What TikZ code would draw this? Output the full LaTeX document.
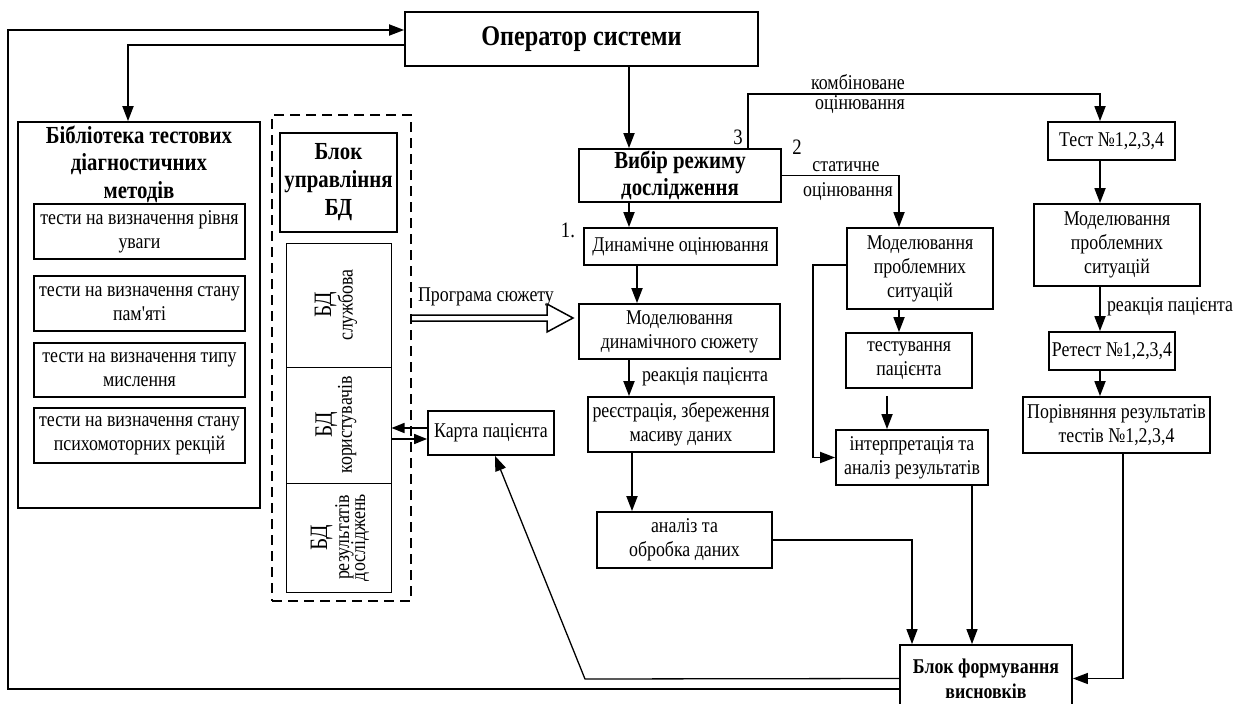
\documentclass[tikz,border=0pt]{standalone}
\usepackage{fontspec}
\setmainfont{Liberation Serif}[Ligatures=TeXOff, FakeStretch=0.85]
\usetikzlibrary{arrows.meta}
\begin{document}
\begin{tikzpicture}[x=1pt,y=-1pt,
 box/.style={draw, line width=1.8pt, inner sep=0pt, align=center, font=\fontsize{21}{24}\selectfont},
 bbox/.style={box, font=\fontsize{24.5}{27}\selectfont\bfseries},
 cell/.style={draw, line width=1pt, inner sep=0pt},
 celltxt/.style={rotate=90, align=center, inner sep=0pt, font=\fontsize{21}{20}\selectfont},
 arr/.style={line width=1.8pt, -{Triangle[length=15pt,width=11pt]}},
 tarr/.style={line width=1.3pt, -{Triangle[length=15pt,width=11pt]}},
 sarr/.style={line width=1.6pt, -{Triangle[length=13pt,width=10pt]}},
 lbl/.style={inner sep=0pt, font=\fontsize{21}{24}\selectfont},
 num/.style={inner sep=0pt, font=\fontsize{22}{24}\selectfont}]
\useasboundingbox (0,0) rectangle (1243,704);
\clip (0,0) rectangle (1243,704);

% top operator
\node[box, font=\fontsize{28.5}{30}\selectfont\bfseries, minimum width=353pt, minimum height=54pt] (op) at (581.5,39) {Оператор системи};

% library
\node[box, minimum width=242pt, minimum height=386pt] (lib) at (139,315) {};
\node[lbl, align=center, font=\fontsize{24.5}{27.5}\selectfont\bfseries] (libt) at (139,164) {Бібліотека тестових\\діагностичних\\методів};
\node[box, minimum width=211pt, minimum height=55pt] (t1) at (139.5,231.5) {тести на визначення рівня\\уваги};
\node[box, minimum width=211pt, minimum height=55pt] (t2) at (139.5,303.5) {тести на визначення стану\\пам'яті};
\node[box, minimum width=211pt, minimum height=54pt] (t3) at (139.5,370) {тести на визначення типу\\мислення};
\node[box, minimum width=211pt, minimum height=55pt] (t4) at (139.5,435.5) {тести на визначення стану\\психомоторних рекцій};

% database group
\node[draw, line width=1.8pt, dash pattern=on 10pt off 6pt, minimum width=139pt, minimum height=486pt] (dbg) at (341.5,358) {};
\node[bbox, minimum width=117pt, minimum height=99pt, font=\fontsize{24.5}{28}\selectfont\bfseries] (bdctl) at (338.5,182.5) {Блок\\управління\\БД};
\node[cell, minimum width=105pt, minimum height=124pt] (db1) at (338.5,305) {};
\node[cell, minimum width=105pt, minimum height=116pt] (db2) at (338.5,425) {};
\node[cell, minimum width=105pt, minimum height=109pt] (db3) at (338.5,537.5) {};
\node[celltxt] (db1t) at (336,305) {{\fontsize{25}{22}\selectfont БД}\\службова};
\node[celltxt] (db2t) at (336,425) {{\fontsize{25}{22}\selectfont БД}\\користувачів};
\node[celltxt] (db3t) at (340,537.5) {{\fontsize{25}{22}\selectfont БД}\\[2pt]результатів\\[-4pt]досліджень};

% middle column
\node[bbox, minimum width=202pt, minimum height=53pt] (vib) at (680,175.5) {Вибір режиму\\дослідження};
\node[box, minimum width=193pt, minimum height=37pt] (dyn) at (680.5,246.5) {Динамічне оцінювання};
\node[box, minimum width=201pt, minimum height=55pt] (moddyn) at (679.5,331.5) {Моделювання\\динамічного сюжету};
\node[box, minimum width=186pt, minimum height=55pt] (reg) at (681,424.5) {реєстрація, збереження\\масиву даних};
\node[box, minimum width=175pt, minimum height=56pt] (anal) at (684.5,540) {аналіз та\\обробка даних};
\node[box, minimum width=126pt, minimum height=44pt] (kart) at (491,433) {Карта пацієнта};

% static column
\node[box, minimum width=146pt, minimum height=81pt] (mpmid) at (920,268.5) {Моделювання\\проблемних\\ситуацій};
\node[box, minimum width=126pt, minimum height=55pt] (test) at (909,360.5) {тестування\\пацієнта};
\node[box, minimum width=152pt, minimum height=55pt] (interp) at (912,457.5) {інтерпретація та\\аналіз результатів};

% combined column
\node[box, minimum width=127pt, minimum height=38pt] (tst) at (1111.5,141) {Тест №1,2,3,4};
\node[box, minimum width=166pt, minimum height=82pt] (mpr) at (1117,245) {Моделювання\\проблемних\\ситуацій};
\node[box, minimum width=126pt, minimum height=38pt] (retest) at (1112,351) {Ретест №1,2,3,4};
\node[box, minimum width=187pt, minimum height=56pt] (por) at (1116.5,425) {Порівняння результатів\\тестів №1,2,3,4};

% conclusions
\node[box, minimum width=172pt, minimum height=67pt, font=\fontsize{21}{25}\selectfont\bfseries] (blok) at (986,678.5) {Блок формування\\висновків};

% labels
\node[lbl] (lk1) at (858,82) {комбіноване};
\node[lbl] (lk2) at (860,105) {оцінювання};
\node[lbl] (ls1) at (846,167) {статичне};
\node[lbl] (ls2) at (848,192) {оцінювання};
\node[lbl] (lr1) at (705,377) {реакція пацієнта};
\node[lbl] (lr2) at (1170,307) {реакція пацієнта};
\node[lbl] (lprog) at (486,297) {Програма сюжету};
\node[num] (n1) at (568,230) {1.};
\node[num] (n2) at (797,147) {2};
\node[num] (n3) at (738,137) {3};

% helper coordinates
\coordinate (xa) at (629,0);
\coordinate (xb) at (637,0);
\coordinate (xc) at (632,0);
\coordinate (xd) at (748,0);
\coordinate (ctop) at (1100,94);
\coordinate (xe) at (899,0);
\coordinate (xf) at (887,0);
\coordinate (xg) at (813,400);
\coordinate (xh) at (912,0);
\coordinate (xi) at (972,0);
\coordinate (xj) at (1123,0);
\coordinate (kbend) at (585,679);
\coordinate (loop) at (8,400);
\coordinate (k1) at ([yshift=5pt]kart.west);
\coordinate (k2) at ([yshift=-6pt]kart.west);

% connectors
\draw[arr] ([yshift=-10.5pt]blok.west) -| (loop) |- ([yshift=9pt]op.west);
\draw[arr] ([yshift=-6pt]op.west) -| ([xshift=-11pt]lib.north);
\draw[arr] (op.south -| xa) -- (vib.north -| xa);
\draw[arr] (vib.south -| xa) -- (dyn.north -| xa);
\draw[arr] (dyn.south -| xb) -- (moddyn.north -| xb);
\draw[arr] (moddyn.south -| xa) -- (reg.north -| xa);
\draw[arr] (reg.south -| xc) -- (anal.north -| xc);
\draw[tarr] (anal.east) -| (blok.north -| xh);
\draw[tarr] (interp.south -| xi) -- (blok.north -| xi);
\draw[tarr] (por.south -| xj) |- (blok.east);
\draw[tarr] (blok.west) -- (kbend) -- ([xshift=4pt]kart.south);
\draw[sarr] (k1) -- (k1 -| db2.east);
\draw[sarr] (k2 -| db2.east) -- (k2);
\draw[line width=1.5pt] (412,315) -- (547,315) -- (547,304) -- (573,318) -- (547,332) -- (547,321) -- (412,321);
\draw[arr] (vib.north -| xd) |- (ctop) -- (tst.north -| ctop);
\draw[arr] (vib.east) -| (mpmid.north -| xe);
\draw[arr] ([yshift=3.5pt]mpmid.west) -| (xg) |- (interp.west);
\draw[arr] (mpmid.south -| xe) -- (test.north -| xe);
\draw[arr, shorten <=7pt] (test.south -| xf) -- (interp.north -| xf);
\draw[arr] (tst.south -| ctop) -- (mpr.north -| ctop);
\draw[arr] (mpr.south -| ctop) -- (retest.north -| ctop);
\draw[arr] (retest.south -| ctop) -- (por.north -| ctop);
\end{tikzpicture}
\end{document}
